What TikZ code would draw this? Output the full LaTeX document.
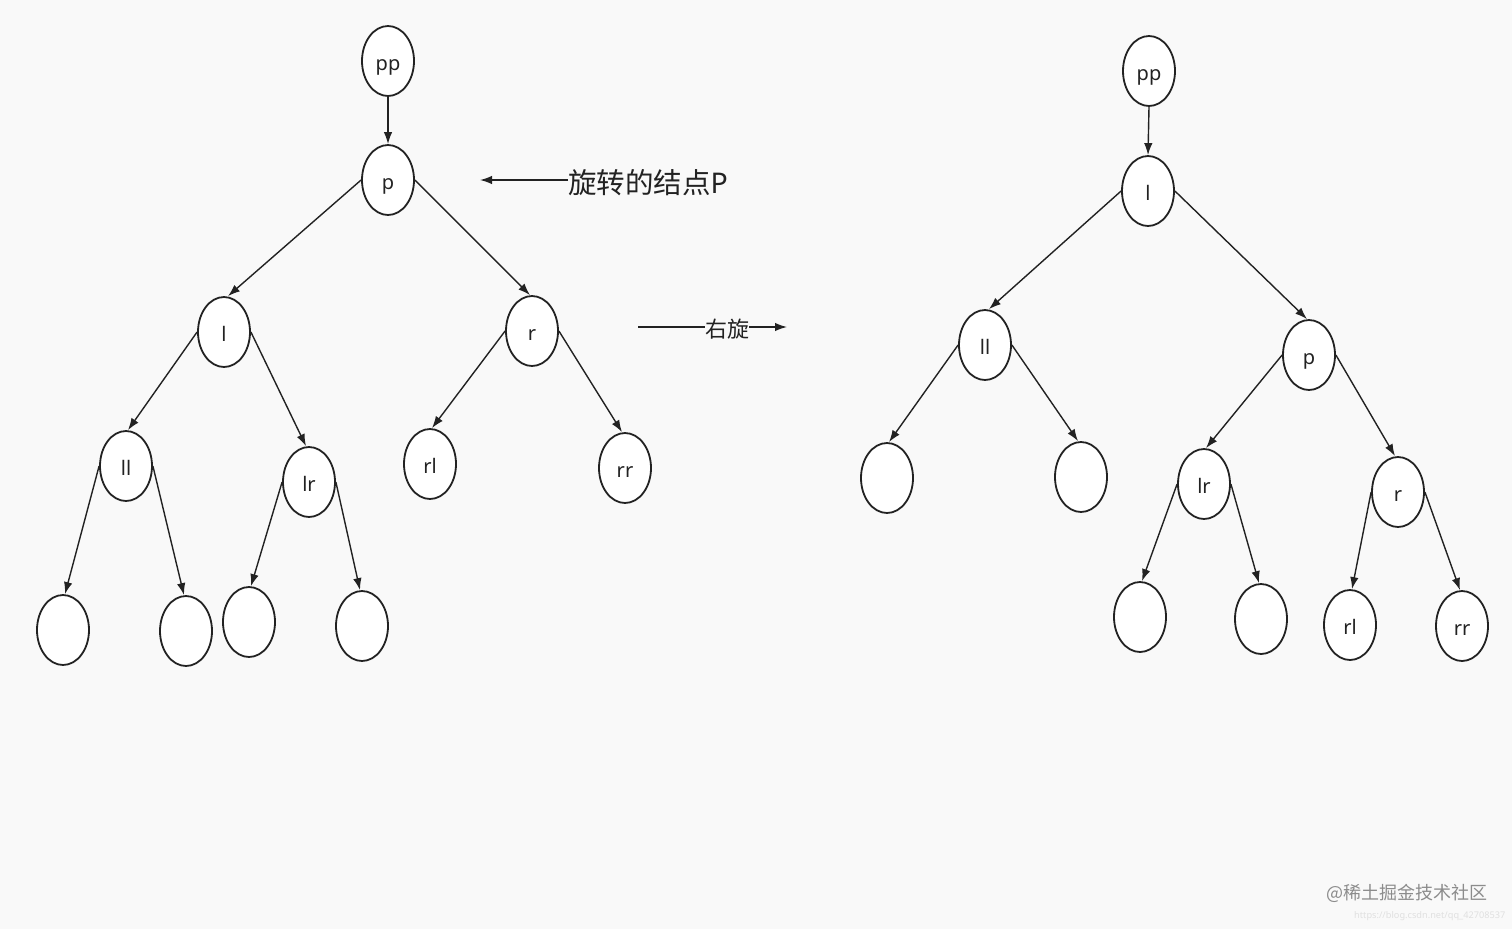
\documentclass[tikz,border=0pt]{standalone}
\usepackage{fontspec}
\setmainfont{Noto Sans}
\newfontfamily\cjk{Noto Sans CJK SC}
\usetikzlibrary{shapes.geometric,arrows.meta}
\definecolor{bg}{HTML}{F9F9F9}
\definecolor{ink}{HTML}{222222}
\tikzset{
  tn/.style={ellipse,draw=ink,line width=1.8pt,fill=white,minimum width=52pt,minimum height=70pt,inner sep=0pt,font=\fontsize{20}{23}\selectfont,text=ink,text height=18pt,text depth=0pt},
  ed/.style={draw=ink,line width=1.4pt,-{Latex[length=12pt,width=8.5pt]}},
  lab/.style={text=ink,inner sep=0pt,fill=bg}
}
\begin{document}
\begin{tikzpicture}[x=1pt,y=-1pt]
\fill[bg] (0,0) rectangle (1512,929);
\useasboundingbox (0,0) rectangle (1512,929);
% left tree
\node[tn] (Lpp) at (388,61) {pp};
\node[tn] (Lp) at (388,180) {p};
\node[tn] (Ll) at (224,332) {l};
\node[tn] (Lr) at (532,331) {r};
\node[tn] (Lll) at (126,466) {ll};
\node[tn] (Llr) at (309,482) {lr};
\node[tn] (Lrl) at (430,464) {rl};
\node[tn] (Lrr) at (625,468) {rr};
\node[tn] (La) at (63,630) {};
\node[tn] (Lb) at (186,631) {};
\node[tn] (Lc) at (249,622) {};
\node[tn] (Ld) at (362,626) {};
\draw[ed] (Lpp.south) -- (Lp.north);
\draw[ed] (Lp.west) -- ([xshift=4pt]Ll.north);
\draw[ed] (Lp.east) -- ([xshift=-2pt]Lr.north);
\draw[ed] (Ll.west) -- ([xshift=2pt]Lll.north);
\draw[ed] (Ll.east) -- ([xshift=-3pt]Llr.north);
\draw[ed] (Lr.west) -- ([xshift=2pt]Lrl.north);
\draw[ed] (Lr.east) -- ([xshift=-3pt]Lrr.north);
\draw[ed] (Lll.west) -- ([xshift=2pt]La.north);
\draw[ed] (Lll.east) -- ([xshift=-2pt]Lb.north);
\draw[ed] (Llr.west) -- ([xshift=2pt]Lc.north);
\draw[ed] (Llr.east) -- ([xshift=-2pt]Ld.north);
% right tree
\node[tn] (Rpp) at (1149,71) {pp};
\node[tn] (Rl) at (1148,191) {l};
\node[tn] (Rll) at (985,345) {ll};
\node[tn] (Rp) at (1309,355) {p};
\node[tn] (Ra) at (887,478) {};
\node[tn] (Rb) at (1081,477) {};
\node[tn] (Rlr) at (1204,484) {lr};
\node[tn] (Rr) at (1398,492) {r};
\node[tn] (Rc) at (1140,617) {};
\node[tn] (Rd) at (1261,619) {};
\node[tn] (Rrl) at (1350,625) {rl};
\node[tn] (Rrr) at (1462,626) {rr};
\draw[ed] (Rpp.south) -- (Rl.north);
\draw[ed] (Rl.west) -- ([xshift=4pt]Rll.north);
\draw[ed] (Rl.east) -- ([xshift=-2pt]Rp.north);
\draw[ed] (Rll.west) -- ([xshift=2pt]Ra.north);
\draw[ed] (Rll.east) -- ([xshift=-3pt]Rb.north);
\draw[ed] (Rp.west) -- ([xshift=2pt]Rlr.north);
\draw[ed] (Rp.east) -- ([xshift=-3pt]Rr.north);
\draw[ed] (Rlr.west) -- ([xshift=2pt]Rc.north);
\draw[ed] (Rlr.east) -- ([xshift=-2pt]Rd.north);
\draw[ed] (Rr.west) -- ([xshift=2pt]Rrl.north);
\draw[ed] (Rr.east) -- ([xshift=-2pt]Rrr.north);
% labels
\coordinate (ptip) at (480,180);
\node[lab,anchor=west,font=\fontsize{28.5}{32}\selectfont] (plab) at (568,183) {{\cjk 旋转的结点}P};
\draw[ed] (plab.west |- ptip) -- (ptip);
\coordinate (rs) at (638,327);
\coordinate (re) at (787,327);
\draw[ed] (rs) -- (re);
\node[lab,font=\cjk\fontsize{22}{25}\selectfont] (rlab) at (727,329) {右旋};
% watermark
\node[anchor=west,text=black!45,font=\cjk\fontsize{18}{21}\selectfont,inner sep=0pt] (wm) at (1326,893) {@稀土掘金技术社区};
\node[anchor=west,text=black!12,font=\fontsize{9.2}{10}\selectfont,inner sep=0pt] (url) at (1354,916) {https://blog.csdn.net/qq\_42708537};
\end{tikzpicture}
\end{document}
